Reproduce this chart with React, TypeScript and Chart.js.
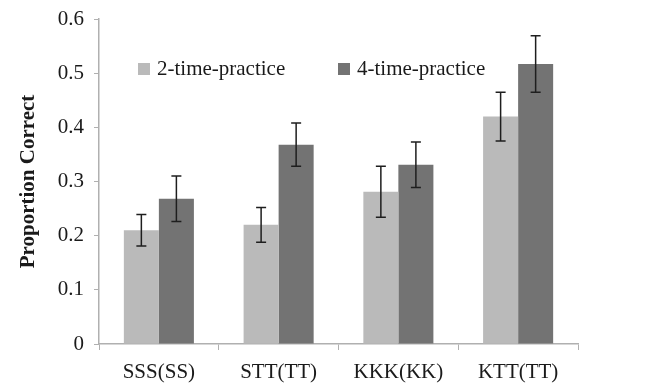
import React, { useEffect, useRef } from "react";
import { Chart, registerables } from "chart.js";

Chart.register(...registerables);

const categories = ["SSS(SS)", "STT(TT)", "KKK(KK)", "KTT(TT)"];
const seriesNames = ["2-time-practice", "4-time-practice"];
const twoTimeValues = [0.21, 0.22, 0.281, 0.42];
const twoTimeErrors = [0.029, 0.032, 0.047, 0.045];
const fourTimeValues = [0.268, 0.368, 0.331, 0.517];
const fourTimeErrors = [0.042, 0.04, 0.042, 0.052];
const yTicks = [0, 0.1, 0.2, 0.3, 0.4, 0.5, 0.6];

const FONT = '"Liberation Serif", "Times New Roman", serif';
const TEXT = "#1a1a1a";
const AXIS = "#b0b0b0";
const COLORS = ["#bababa", "#737373"];

const errorBarPlugin = {
  id: "errorBars",
  afterDatasetsDraw(chart: any) {
    const ctx = chart.ctx;
    const y = chart.scales.y;
    const errs = [twoTimeErrors, fourTimeErrors];
    ctx.save();
    ctx.strokeStyle = "#1e1e1e";
    ctx.lineWidth = 1.5;
    chart.data.datasets.forEach((ds: any, di: number) => {
      const meta = chart.getDatasetMeta(di);
      meta.data.forEach((bar: any, i: number) => {
        const v = ds.data[i];
        const e = errs[di][i];
        const yt = y.getPixelForValue(v + e);
        const yb = y.getPixelForValue(v - e);
        const x = bar.x;
        ctx.beginPath();
        ctx.moveTo(x, yt);
        ctx.lineTo(x, yb);
        ctx.moveTo(x - 5, yt);
        ctx.lineTo(x + 5, yt);
        ctx.moveTo(x - 5, yb);
        ctx.lineTo(x + 5, yb);
        ctx.stroke();
      });
    });
    ctx.restore();
  },
};

const legendPlugin = {
  id: "innerLegend",
  afterDraw(chart: any) {
    const ctx = chart.ctx;
    const { left, top } = chart.chartArea;
    const offsets = [39, 239];
    ctx.save();
    ctx.font = `21px ${FONT}`;
    ctx.textBaseline = "middle";
    ctx.textAlign = "left";
    chart.data.datasets.forEach((ds: any, di: number) => {
      const x = left + offsets[di];
      const yc = top + 50;
      ctx.fillStyle = ds.backgroundColor;
      ctx.fillRect(x, yc - 6, 12, 12);
      ctx.fillStyle = TEXT;
      ctx.fillText(ds.label, x + 19, yc);
    });
    ctx.restore();
  },
};

export default function App() {
  const ref = useRef<HTMLCanvasElement | null>(null);
  useEffect(() => {
    if (!ref.current) return;
    const chart = new Chart(ref.current, {
      type: "bar",
      data: {
        labels: categories,
        datasets: [
          { label: seriesNames[0], data: twoTimeValues, backgroundColor: COLORS[0], borderWidth: 0 },
          { label: seriesNames[1], data: fourTimeValues, backgroundColor: COLORS[1], borderWidth: 0 },
        ],
      },
      options: {
        animation: false,
        responsive: false,
        layout: { padding: { top: 19, right: 73, left: 0, bottom: 0 } },
        datasets: { bar: { categoryPercentage: 0.585, barPercentage: 1 } },
        plugins: { legend: { display: false }, tooltip: { enabled: false } },
        scales: {
          x: {
            grid: { offset: true, drawOnChartArea: false, tickLength: 6, color: AXIS },
            border: { color: AXIS, width: 1.5 },
            ticks: { color: TEXT, font: { family: FONT, size: 21 }, padding: 10, maxRotation: 0 },
            afterFit: (s: any) => { s.height = 40; s.paddingLeft = 0; s.paddingRight = 0; },
          },
          y: {
            min: 0,
            max: 0.6,
            afterBuildTicks: (s: any) => { s.ticks = yTicks.map((v) => ({ value: v })); },
            grid: { drawOnChartArea: false, tickLength: 5, color: AXIS },
            border: { color: AXIS, width: 1.5 },
            ticks: {
              color: TEXT,
              font: { family: FONT, size: 21 },
              padding: 10,
              callback: (v: any) => (Number(v) === 0 ? "0" : Number(v).toFixed(1)),
            },
            title: {
              display: true,
              text: "Proportion Correct",
              color: TEXT,
              font: { family: FONT, size: 21, weight: "bold" },
              padding: { top: 16, bottom: 0 },
            },
            afterFit: (s: any) => { s.width = 99; s.paddingTop = 0; s.paddingBottom = 0; },
          },
        },
      },
      plugins: [errorBarPlugin, legendPlugin],
    });
    return () => chart.destroy();
  }, []);
  return (
    <div style={{ position: "fixed", left: 0, top: 0, width: 651, height: 384, background: "#fff" }}>
      <canvas ref={ref} width={651} height={384} />
    </div>
  );
}
